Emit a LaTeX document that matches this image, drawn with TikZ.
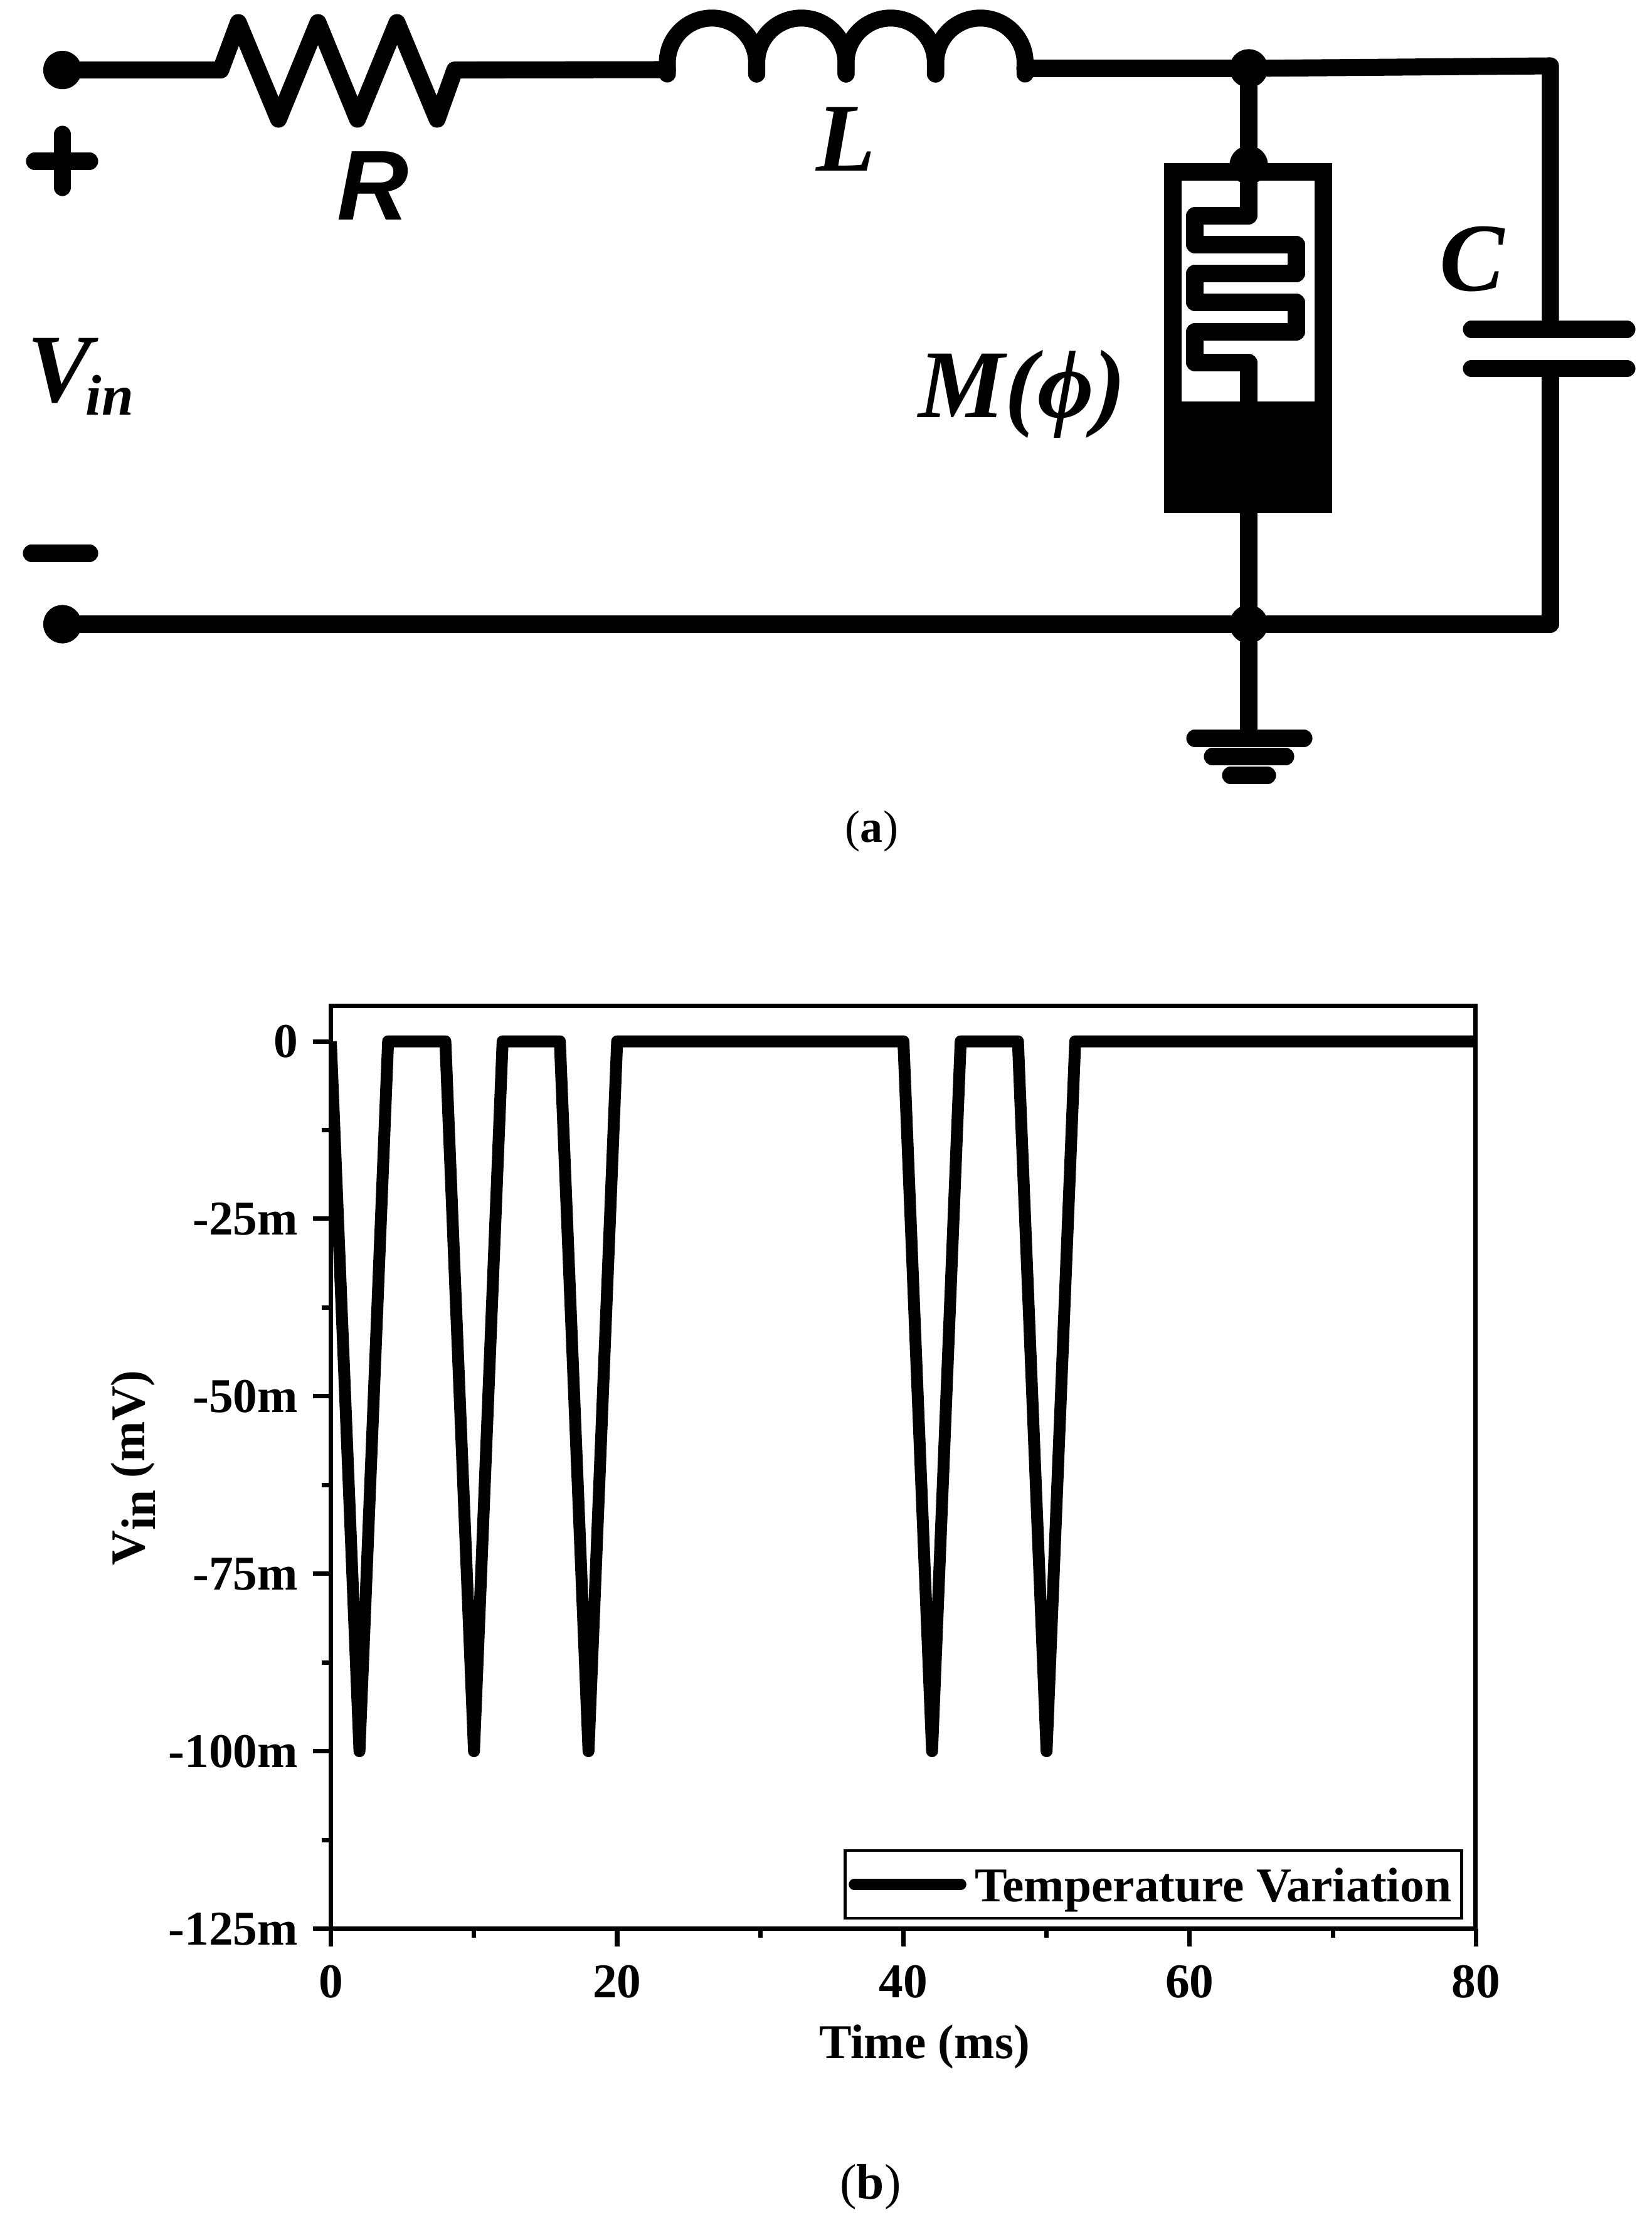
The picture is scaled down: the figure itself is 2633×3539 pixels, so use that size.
\documentclass[tikz,border=0pt]{standalone}
\usepackage{fontspec}
\setmainfont{Liberation Serif}
\newfontfamily\sansfam{Liberation Sans}
\tikzset{
  wire/.style={line width=7.7pt,line join=round,line cap=round},
  dot/.style={circle,fill=black,inner sep=0pt,outer sep=0pt,minimum size=17.4pt},
  biglab/.style={font=\fontsize{44}{48}\selectfont\bfseries\itshape,inner sep=0pt,outer sep=0pt,anchor=base},
  ticklab/.style={font=\fontsize{22}{24}\selectfont\bfseries,inner sep=0pt,outer sep=0pt},
  axisline/.style={line width=2pt},
  curve/.style={line width=5.4pt,line join=round}
}
\begin{document}
\begin{tikzpicture}[x=0.01cm,y=-0.01cm]
      \useasboundingbox (0,0) rectangle (2633,3539);

      % circuit
      \begin{scope}[every node/.style={dot}]
        \node (vp)   at (99.5,111.6) {};
        \node (vm)   at (99.5,995) {};
        \node (top)  at (1991,109) {};
        \node (mtop) at (1991,263) {};
        \node (bot)  at (1991,995) {};
      \end{scope}

      \coordinate (rin)  at (352,111.6);
      \coordinate (rout) at (725,111.6);
      \coordinate (lin)  at (1064,111);
      \coordinate (lout) at (1634,109);
      \coordinate (cne)  at (2472,105);
      \coordinate (cse)  at (2472,995);
      \coordinate (ctop) at (2472,525);
      \coordinate (cbot) at (2472,587.5);
      \coordinate (gnd)  at (1991,1177);

      \begin{scope}[wire]
        % R
        \draw (vp) -- (rin) -- (380,36) -- (444,190) -- (507,36) -- (570,190)
              -- (633,36) -- (697,190) -- (rout) -- (lin);
        % L
        \foreach \xa in {1064,1206.5,1349,1492}
          \draw (\xa,118) -- (\xa,100) arc[start angle=180,end angle=360,radius=71.2] -- ++(0,18);
        \draw (lout) -- (top);
        \draw (top) -- (cne) -- (ctop);
        \draw (cbot) -- (cse) -- (bot);
        \draw (vm) -- (bot);
        \draw (top) -- (mtop);
        \draw (bot) -- (gnd);
        % C
        \draw (2346,525) -- (ctop) -- (2594,525);
        \draw (2346,587.5) -- (cbot) -- (2594,587.5);
        % ground
        \draw (1905,1177) -- (gnd) -- (2079,1177);
        \draw (1933,1206) -- (2050,1206);
        \draw (1962,1236) -- (2021,1236);
        % plus and minus
        \draw (99.5,214) -- (99.5,299);
        \draw (55,257) -- (143,257);
        \draw (50,882) -- (143,882);
        % M
        \draw[line join=miter] (1870,274) rectangle (2110,804);
        \fill (1870,640) rectangle (2110,804);
        \draw (mtop) -- (1991,344) -- (1905,344) -- (1905,390) -- (2067,390)
              -- (2067,436) -- (1905,436) -- (1905,482) -- (2067,482) -- (2067,529)
              -- (1905,529) -- (1905,578) -- (1991,578) -- (1991,640);
        \draw (1991,804) -- (bot);
      \end{scope}

      \node[biglab,font=\fontsize{45}{48}\selectfont\sansfam\bfseries\itshape] (rlab) at (595,350) {R};
      \node[biglab] (llab) at (1349,272) {L};
      \node[biglab] (clab) at (2347,463) {C};
      \node[biglab] (mlab) at (1630,665) {M(ϕ)};
      \node[biglab,anchor=base west] (vlab) at (44,640) {V\kern-3pt\raisebox{-6pt}{\fontsize{26}{28}\selectfont in}};
      \node[ticklab,font=\fontsize{20.5}{24}\selectfont,anchor=base] (alab) at (1390,1342) {(\textbf{a})};

      % plot
      \coordinate (fnw) at (527.5,1603);
      \coordinate (fse) at (2352.6,3074);
      \begin{scope}
        \clip (fnw) rectangle (fse);
        \begin{scope}[shift={(527.5,1660)},x=0.2281cm,y=-0.1131cm]
          \draw[curve] (0,0) -- (2,100) -- (4,0) -- (8,0) -- (10,100) -- (12,0) -- (16,0)
            -- (18,100) -- (20,0) -- (40,0) -- (42,100) -- (44,0) -- (48,0)
            -- (50,100) -- (52,0) -- (80,0);
        \end{scope}
      \end{scope}
      \draw[axisline] (fnw) rectangle (fse);

      \begin{scope}[shift={(527.5,1660)},x=0.2281cm,y=-0.1131cm]
        \foreach \vv/\vl in {0/0,25/-25m,50/-50m,75/-75m,100/-100m,125/-125m} {
          \draw[axisline] (0,\vv) -- ++(-1.25,0);
          \node[ticklab,anchor=base east] (yl\vv) at (-2.3,\vv+2.25) {\vl};
        }
        \foreach \vv in {12.5,37.5,62.5,87.5,112.5}
          \draw[axisline] (0,\vv) -- ++(-0.62,0);
        \foreach \tt in {0,20,40,60,80} {
          \draw[axisline] (\tt,125) -- ++(0,2.5);
          \node[ticklab,anchor=base] (xl\tt) at (\tt,134.7) {\tt};
        }
        \foreach \tt in {10,30,50,70}
          \draw[axisline] (\tt,125) -- ++(0,1.25);
      \end{scope}

      \node[ticklab,anchor=base] (xlab) at (1474,3281) {Time (ms)};
      \node[ticklab,anchor=base,rotate=90] (ylab) at (230,2340) {V\raisebox{-5pt}{in} (mV)};

      \node[draw,line width=1.2pt,minimum width=279.5pt,minimum height=30.7pt,inner sep=0pt] (lgd) at (1839,3004) {};
      \coordinate (lgda) at (1362,3004);
      \coordinate (lgdb) at (1532,3004);
      \draw[line width=5pt,line cap=round] (lgda) -- (lgdb);
      \node[ticklab,anchor=base west] (lgdt) at (1554,3031) {Temperature Variation};

      \node[ticklab,font=\fontsize{22.6}{24}\selectfont,anchor=base] (blab) at (1388,3505) {(\textbf{b})};

    \end{tikzpicture}
\end{document}
